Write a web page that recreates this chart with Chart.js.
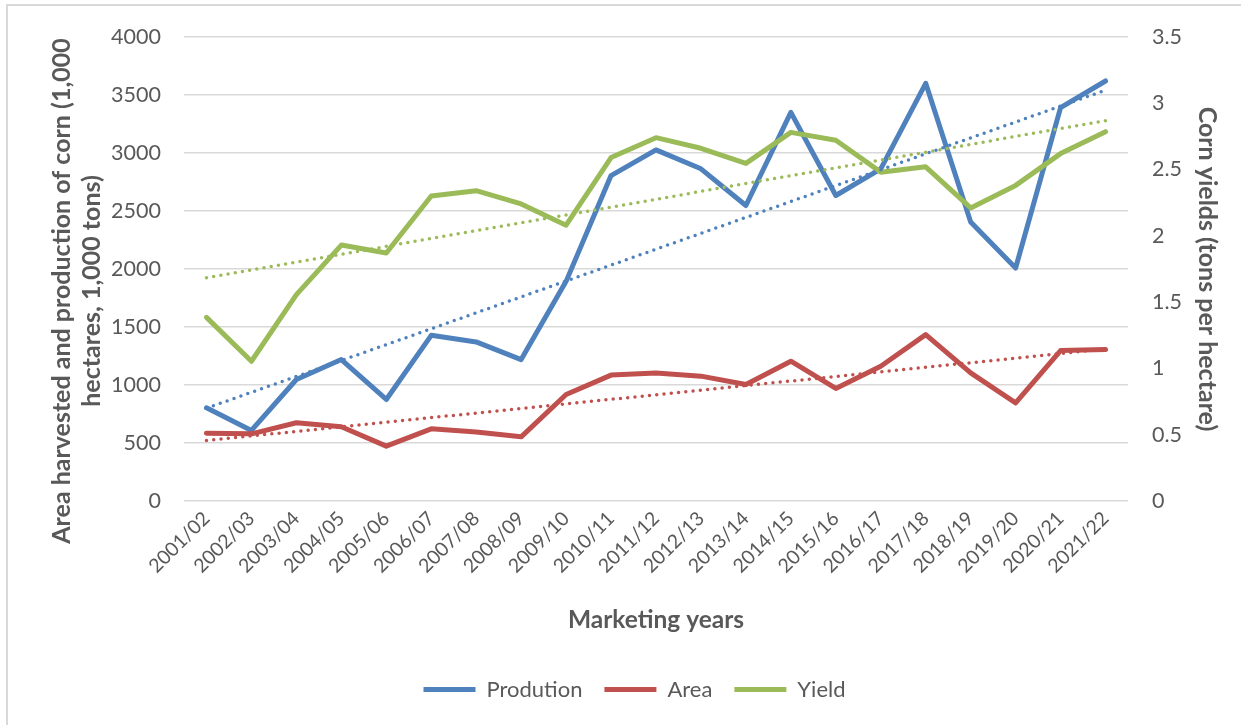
<!DOCTYPE html>
<html>
<head>
<meta charset="utf-8">
<script src="https://cdn.jsdelivr.net/npm/chart.js@4/dist/chart.umd.min.js"></script>
<style>
  html, body { margin: 0; padding: 0; background: #fff; overflow: hidden; }
  #wrap { position: relative; width: 1241px; height: 725px; }
  #frame { position: absolute; left: 6px; top: 4px; width: 1300px; height: 800px; border: 2px solid #d9d9d9; box-sizing: border-box; }
  #c { position: absolute; left: 0; top: 0; }
</style>
</head>
<body>
<div id="wrap">
  <div id="frame"></div>
  <canvas id="c" width="1241" height="725"></canvas>
</div>
<script>
const years = ["2001/02","2002/03","2003/04","2004/05","2005/06","2006/07","2007/08","2008/09","2009/10","2010/11","2011/12","2012/13","2013/14","2014/15","2015/16","2016/17","2017/18","2018/19","2019/20","2020/21","2021/22"];
const production = [803,608,1047,1219,875,1428,1371,1219,1893,2805,3026,2863,2547,3350,2633,2863,3600,2404,2008,3391,3620];
const area = [585,579,674,640,473,622,594,553,918,1085,1104,1076,1004,1205,970,1162,1434,1104,846,1297,1305];
const yieldT = [1.385,1.054,1.556,1.93,1.87,2.30,2.34,2.24,2.08,2.59,2.74,2.66,2.546,2.78,2.72,2.48,2.52,2.21,2.38,2.62,2.785];
const leftTicks = [0,500,1000,1500,2000,2500,3000,3500,4000];
const rightTicks = [0,0.5,1,1.5,2,2.5,3,3.5];
const leftTitle = ['Area harvested and production of corn (1,000', 'hectares, 1,000 tons)'];
const rightTitle = 'Corn yields (tons per hectare)';
const xTitle = 'Marketing years';

function linearTrend(v) {
  const n = v.length;
  const mx = (n - 1) / 2;
  const my = v.reduce((a, b) => a + b, 0) / n;
  let sxy = 0, sxx = 0;
  v.forEach((y, i) => { sxy += (i - mx) * (y - my); sxx += (i - mx) * (i - mx); });
  const b = sxy / sxx;
  return v.map((_, i) => my + b * (i - mx));
}

const BLUE = '#4F81BD', RED = '#C0504D', GREEN = '#9BBB59';
const GREY = '#595959';
const FONT = 'Lato, "Open Sans", sans-serif';

const lineDs = (label, data, color, axis, order) => ({
  label, data, borderColor: color, backgroundColor: color, yAxisID: axis,
  borderWidth: 5, pointRadius: 0, tension: 0, order,
  borderCapStyle: 'round', borderJoinStyle: 'round', fill: false
});
const trendDs = (label, data, color, axis) => ({
  label, data, borderColor: color, backgroundColor: color, yAxisID: axis,
  borderWidth: 3.5, pointRadius: 0, tension: 0, order: 0,
  borderDash: [0, 7.3], borderCapStyle: 'round', fill: false, isTrend: true
});

const extras = {
  id: 'extras',
  afterLayout(chart) {
    if (chart.legend) { chart.legend.left += 14; chart.legend.right += 14; }
  },
  afterDraw(chart) {
    const ctx = chart.ctx;
    ctx.save();
    ctx.translate(62, 291);
    ctx.rotate(-Math.PI / 2);
    ctx.fillStyle = GREY;
    ctx.font = 'bold 25px ' + FONT;
    ctx.textAlign = 'center';
    ctx.textBaseline = 'middle';
    leftTitle.forEach((t, i) => ctx.fillText(t, 0, i * 30));
    ctx.restore();
  }
};

new Chart(document.getElementById('c'), {
  type: 'line',
  data: {
    labels: years,
    datasets: [
      lineDs('Prodution', production, BLUE, 'y', 3),
      lineDs('Area', area, RED, 'y', 2),
      lineDs('Yield', yieldT, GREEN, 'y1', 1),
      trendDs('Linear (Prodution)', linearTrend(production), BLUE, 'y'),
      trendDs('Linear (Area)', linearTrend(area), RED, 'y'),
      trendDs('Linear (Yield)', linearTrend(yieldT), GREEN, 'y1')
    ]
  },
  plugins: [extras],
  options: {
    responsive: false,
    animation: false,
    layout: { padding: { left: 0, right: 0, top: 35, bottom: 14.5 } },
    plugins: {
      tooltip: { enabled: false },
      legend: {
        position: 'bottom',
        labels: {
          usePointStyle: true,
          pointStyle: 'line',
          pointStyleWidth: 52,
          padding: 22,
          color: GREY,
          font: { family: FONT, size: 22 },
          filter: (item, data) => !data.datasets[item.datasetIndex].isTrend,
          sort: (a, b) => a.datasetIndex - b.datasetIndex
        }
      }
    },
    scales: {
      x: {
        offset: true,
        grid: { display: false, drawTicks: false },
        border: { display: false },
        ticks: {
          autoSkip: false, minRotation: 45, maxRotation: 45, padding: 6,
          color: GREY, font: { family: FONT, size: 19.5 }
        },
        title: {
          display: true, text: xTitle, color: GREY,
          font: { family: FONT, size: 24.5, weight: 'bold', lineHeight: 1.2 },
          padding: { top: 0, bottom: 21.5 }
        },
        afterFit: (s) => { s.height = 155.5; }
      },
      y: {
        position: 'left', min: 0, max: 4000,
        afterBuildTicks: (s) => { s.ticks = leftTicks.map(v => ({ value: v })); },
        grid: { color: '#d9d9d9', lineWidth: 1.5, drawTicks: false },
        border: { display: false },
        ticks: { padding: 23, color: GREY, font: { family: FONT, size: 21.5 }, callback: (v) => String(v) },
        title: { display: false },
        afterFit: (s) => { s.width = 184; }
      },
      y1: {
        position: 'right', min: 0, max: 3.5,
        afterBuildTicks: (s) => { s.ticks = rightTicks.map(v => ({ value: v })); },
        grid: { display: false, drawTicks: false },
        border: { display: false },
        ticks: { padding: 24, color: GREY, font: { family: FONT, size: 21.5 }, callback: (v) => String(v) },
        title: {
          display: true, text: rightTitle, color: GREY,
          font: { family: FONT, size: 25, weight: 'bold', lineHeight: 1.2 },
          padding: { top: 19, bottom: 0 }
        },
        afterFit: (s) => { s.width = 113; }
      }
    }
  }
});
</script>
</body>
</html>
